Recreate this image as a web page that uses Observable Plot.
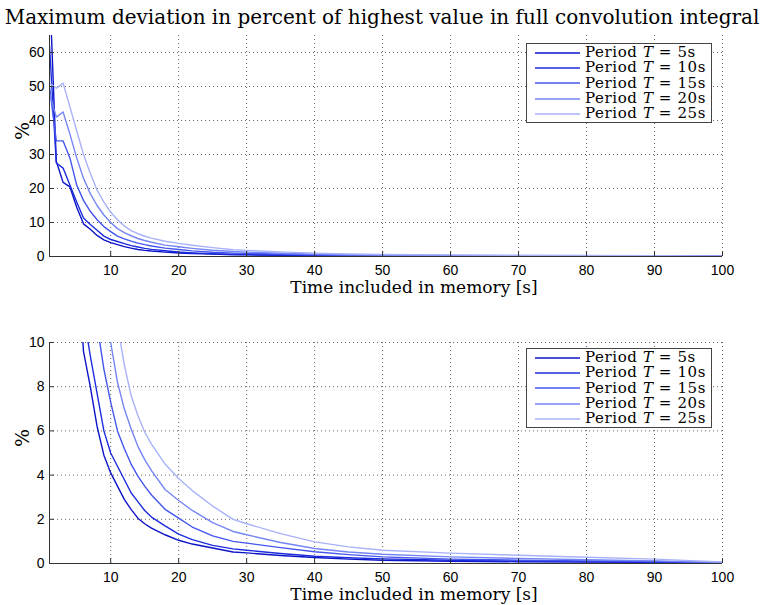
<!DOCTYPE html>
<html><head><meta charset="utf-8">
<script src="https://cdn.jsdelivr.net/npm/d3@7"></script>
<script src="https://cdn.jsdelivr.net/npm/@observablehq/plot@0.6"></script>
<style>
body{margin:0;background:#fff;}
#wrap{position:relative;width:764px;height:605px;overflow:hidden;background:#fff;}
#title{position:absolute;left:0;top:5px;width:764px;text-align:center;font-family:"DejaVu Serif",serif;font-size:20px;line-height:24px;color:#000;white-space:nowrap;}
.plot{position:absolute;left:0;}
.legend{position:absolute;left:526px;width:184px;border:1px solid #444;background:#fff;font-family:"DejaVu Serif",serif;font-size:15px;letter-spacing:0.6px;color:#000;padding:1px 0;}
.legend .row{height:15.3px;line-height:15.3px;white-space:nowrap;display:flex;align-items:center;}
.legend svg{margin-left:8px;margin-right:5px;}
</style></head>
<body><div id="wrap"></div>
<script>
// ---- data ----
const times = [1,2,3,4,5,6,7,8,9,10,11,12,13,14,15,16,18,20,22,25,28,30,35,40,45,50,60,70,80,90,100];
const periods = ["5s","10s","15s","20s","25s"];
const dev5  = [80,28,21.8,20.5,14.5,9.6,8.0,6.2,4.9,4.1,3.5,2.9,2.45,2.05,1.8,1.6,1.3,1.05,0.88,0.7,0.52,0.48,0.36,0.27,0.2,0.15,0.1,0.08,0.07,0.05,0.02];
const dev10 = [62,27.5,26,21,16,11.3,9.4,7.7,6.0,5.0,4.4,3.8,3.2,2.8,2.4,2.1,1.7,1.33,1.08,0.82,0.66,0.6,0.45,0.33,0.26,0.21,0.15,0.11,0.09,0.07,0.03];
const dev15 = [50,34,34,29,21,16.5,13.3,10.8,8.8,7.3,6.0,5.2,4.5,3.95,3.5,3.1,2.45,2.05,1.65,1.25,1.0,0.92,0.72,0.53,0.4,0.3,0.2,0.15,0.12,0.09,0.04];
const dev20 = [48,41,42.5,36,29,23,18.5,15,12.2,10,8.2,7.0,6.1,5.3,4.7,4.2,3.35,2.85,2.4,1.85,1.45,1.3,0.95,0.68,0.52,0.42,0.3,0.23,0.17,0.12,0.05];
const dev25 = [51,49.5,51,44,37,30,24.5,19.5,16,13,10.8,9.0,7.6,6.7,5.95,5.4,4.5,3.85,3.3,2.6,2.0,1.8,1.35,0.98,0.75,0.6,0.47,0.37,0.28,0.2,0.07];
const series = [dev5, dev10, dev15, dev20, dev25];
const colors = ["#0c14c8","#1c2cdc","#4456ec","#7485f4","#a8b2fa"];
const xTicks = [10,20,30,40,50,60,70,80,90,100];
const yTicksTop = [0,10,20,30,40,50,60];
const yTicksBottom = [0,2,4,6,8,10];
const titleText = "Maximum deviation in percent of highest value in full convolution integral";
const xLabel = "Time included in memory [s]";
const yLabel = "%";

const rows = periods.flatMap((p, i) => times.map((t, j) => ({t, v: series[i][j], p})));

const serif = "DejaVu Serif, serif";
function chart(yDomain, yTicks, height, mt, mb) {
  return Plot.plot({
    width: 764, height,
    marginLeft: 49, marginRight: 42, marginTop: mt, marginBottom: mb,
    x: {domain: [1, 100]},
    y: {domain: yDomain},
    color: {domain: periods, range: colors},
    style: {fontFamily: "Liberation Sans, Arial, sans-serif", fontSize: "14px", color: "#000", background: "transparent", overflow: "visible"},
    marks: [
      Plot.gridX(xTicks, {stroke: "#666", strokeOpacity: 1, strokeDasharray: "1,3"}),
      Plot.gridY(yTicks.filter(d => d > 0), {stroke: "#666", strokeOpacity: 1, strokeDasharray: "1,3"}),
      Plot.line(rows, {x: "t", y: "v", stroke: "p", strokeWidth: 1.4, clip: true}),
      Plot.ruleY([yDomain[0]], {stroke: "#333"}),
      Plot.ruleX([1], {stroke: "#333"}),
      Plot.axisX(xTicks, {tickSize: -5, tickPadding: 14, label: null, stroke: "#333"}),
      Plot.axisY(yTicks, {tickSize: -5, tickPadding: 10, label: null, stroke: "#333"}),
      Plot.text([xLabel], {frameAnchor: "bottom", dy: 36, dx: 28, fontFamily: serif, fontSize: 17, fill: "#000"}),
      Plot.text([yLabel], {frameAnchor: "left", dx: -27, dy: -6, rotate: -90, fontFamily: serif, fontSize: 19, fill: "#000"})
    ]
  });
}

function legend(top) {
  const div = document.createElement("div");
  div.className = "legend";
  div.style.top = top + "px";
  periods.forEach((p, i) => {
    const row = document.createElement("div");
    row.className = "row";
    row.innerHTML = `<svg width="45" height="4"><line x1="0" x2="45" y1="2" y2="2" stroke="${colors[i]}" stroke-width="1.5"/></svg><span>Period <i>T</i> = ${p}</span>`;
    div.appendChild(row);
  });
  return div;
}

const wrap = document.getElementById("wrap");
const p1 = chart([0, 65], yTicksTop, 300, 35, 44);
p1.classList.add("plot"); p1.style.top = "0px";
const p2 = chart([0, 10], yTicksBottom, 305, 42, 42);
p2.classList.add("plot"); p2.style.top = "300px";
wrap.appendChild(p1);
wrap.appendChild(p2);
wrap.appendChild(legend(43));
wrap.appendChild(legend(348));
const t = document.createElement("div");
t.id = "title"; t.textContent = titleText;
wrap.appendChild(t);
</script>
</body></html>
